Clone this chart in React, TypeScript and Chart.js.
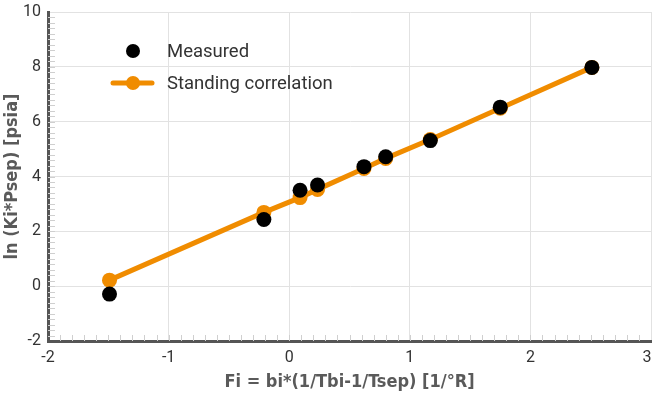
import React, { useEffect, useRef } from "react";
import { Chart, registerables } from "chart.js";

Chart.register(...registerables);

const measuredX = [-1.49, -0.21, 0.09, 0.235, 0.62, 0.8, 1.17, 1.75, 2.51];
const measuredY = [-0.29, 2.43, 3.5, 3.69, 4.36, 4.72, 5.31, 6.53, 7.98];
const standingX = [-1.49, -0.21, 0.09, 0.235, 0.62, 0.8, 1.17, 1.75, 2.51];
const standingY = [0.22, 2.69, 3.23, 3.53, 4.29, 4.66, 5.35, 6.49, 7.98];

const xTicks = [-2, -1, 0, 1, 2, 3];
const yTicks = [-2, 0, 2, 4, 6, 8, 10];

const ORANGE = "#f08c00";
const TICK_FONT = "Roboto, 'Noto Sans', sans-serif";
const TITLE_FONT = "'Liberation Sans Narrow', 'DejaVu Sans Condensed', 'Roboto', sans-serif";

const minorTicks = {
  id: "minorTicks",
  beforeDatasetsDraw(chart: any) {
    const { ctx, chartArea, scales } = chart;
    const xs = scales.x;
    const ys = scales.y;
    ctx.save();
    ctx.strokeStyle = "#cfcfcf";
    ctx.lineWidth = 1;
    ctx.beginPath();
    for (let i = 1; i < 50; i++) {
      const v = xTicks[0] + i * 0.1;
      const px = Math.round(xs.getPixelForValue(v)) + 0.5;
      ctx.moveTo(px, chartArea.bottom);
      ctx.lineTo(px, chartArea.bottom - 6);
    }
    for (let i = 1; i < 60; i++) {
      const v = yTicks[0] + i * 0.2;
      const py = Math.round(ys.getPixelForValue(v)) + 0.5;
      ctx.moveTo(chartArea.left, py);
      ctx.lineTo(chartArea.left + 7, py);
    }
    ctx.stroke();
    ctx.restore();
  },
};

const customLegend = {
  id: "customLegend",
  afterDraw(chart: any) {
    const { ctx } = chart;
    const ds = chart.data.datasets;
    ctx.save();
    ctx.font = `18.5px ${TICK_FONT}`;
    ctx.textBaseline = "middle";
    const cx = 133;
    let y = 51;
    ctx.beginPath();
    ctx.arc(cx, y, 7, 0, Math.PI * 2);
    ctx.fillStyle = ds[0].backgroundColor;
    ctx.fill();
    ctx.fillStyle = "#333";
    ctx.fillText(ds[0].label, 167, y + 1);
    y = 83;
    ctx.strokeStyle = ds[1].borderColor;
    ctx.lineWidth = 5;
    ctx.lineCap = "round";
    ctx.beginPath();
    ctx.moveTo(113, y);
    ctx.lineTo(152, y);
    ctx.stroke();
    ctx.beginPath();
    ctx.arc(cx, y, 7, 0, Math.PI * 2);
    ctx.fillStyle = ds[1].backgroundColor;
    ctx.fill();
    ctx.fillStyle = "#333";
    ctx.fillText(ds[1].label, 167, y + 1);
    ctx.restore();
  },
};

export default function App() {
  const ref = useRef<HTMLCanvasElement | null>(null);

  useEffect(() => {
    document.body.style.margin = "0";
    document.body.style.overflow = "hidden";
    if (!ref.current) return;
    const chart = new Chart(ref.current, {
      type: "scatter",
      data: {
        datasets: [
          {
            label: "Measured",
            data: measuredX.map((x, i) => ({ x, y: measuredY[i] })),
            backgroundColor: "#000",
            borderColor: "#000",
            pointRadius: 7.5,
            pointHoverRadius: 7.5,
            borderWidth: 0,
            showLine: false,
          },
          {
            label: "Standing correlation",
            data: standingX.map((x, i) => ({ x, y: standingY[i] })),
            backgroundColor: ORANGE,
            borderColor: ORANGE,
            pointBackgroundColor: ORANGE,
            pointBorderWidth: 0,
            pointRadius: 7.5,
            pointHoverRadius: 7.5,
            borderWidth: 5,
            showLine: true,
          },
        ],
      },
      options: {
        animation: false,
        responsive: false,
        maintainAspectRatio: false,
        layout: { autoPadding: false, padding: { top: 12, right: 2, left: 0, bottom: 12 } },
        plugins: {
          legend: { display: false },
          tooltip: { enabled: false },
        },
        scales: {
          x: {
            type: "linear",
            min: -2,
            max: 3,
            afterBuildTicks: (s: any) => {
              s.ticks = xTicks.map((v) => ({ value: v }));
            },
            afterFit: (s: any) => {
              s.height = 52;
              s.paddingLeft = 0;
              s.paddingRight = 0;
            },
            grid: { color: "#e2e2e2", lineWidth: 1, drawTicks: false },
            border: { color: "#555", width: 3 },
            ticks: {
              color: "#333",
              padding: 7,
              font: { family: TICK_FONT, size: 16 },
              callback: (v: any) => (v === xTicks[xTicks.length - 1] ? `${v}\u2002` : `${v}`),
            },
            title: {
              display: true,
              text: "Fi = bi*(1/Tbi-1/Tsep) [1/°R]",
              color: "#5a5a5a",
              font: { family: TITLE_FONT, size: 18, weight: "bold" },
              padding: { top: 4, bottom: 0 },
            },
          },
          y: {
            type: "linear",
            min: -2,
            max: 10,
            afterBuildTicks: (s: any) => {
              s.ticks = yTicks.map((v) => ({ value: v }));
            },
            afterFit: (s: any) => {
              s.width = 48;
              s.paddingTop = 0;
              s.paddingBottom = 0;
            },
            grid: { color: "#e2e2e2", lineWidth: 1, drawTicks: false },
            border: { color: "#555", width: 3 },
            ticks: {
              color: "#333",
              padding: 7,
              font: { family: TICK_FONT, size: 16 },
            },
            title: {
              display: true,
              text: "ln (Ki*Psep) [psia]",
              color: "#5a5a5a",
              font: { family: TITLE_FONT, size: 18, weight: "bold" },
              padding: { top: 2, bottom: 0 },
            },
          },
        },
      },
      plugins: [minorTicks, customLegend],
    });
    return () => chart.destroy();
  }, []);

  return (
    <div style={{ width: 653, height: 405 }}>
      <canvas ref={ref} width={653} height={405} style={{ display: "block" }} />
    </div>
  );
}
